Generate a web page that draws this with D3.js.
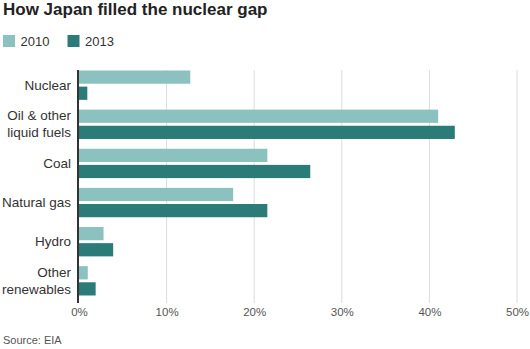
<!DOCTYPE html>
<html>
  <head>
    <meta charset="utf-8" />
    <title>How Japan filled the nuclear gap</title>
    <script src="https://d3js.org/d3.v7.min.js" charset="utf-8"></script>
    <style>
      html,
      body {
        margin: 0;
        padding: 0;
        background-color: #ffffff;
        font-family: "Liberation Sans", Arial, Helvetica, sans-serif;
      }
    </style>
  </head>
  <body>
    <svg id="chart"></svg>
    <script>
      // Data (share of electricity generation, %)
      const categories = [
        ["Nuclear"],
        ["Oil & other", "liquid fuels"],
        ["Coal"],
        ["Natural gas"],
        ["Hydro"],
        ["Other", "renewables"],
      ];
      const years = ["2010", "2013"];
      const values2010 = [12.7, 41.0, 21.5, 17.6, 2.8, 1.0];
      const values2013 = [0.95, 42.9, 26.4, 21.5, 3.9, 1.9];
      const xTicks = [0, 10, 20, 30, 40, 50];

      // SVG size
      const width = 530;
      const height = 349;

      // plot area
      const plotLeft = 79;
      const plotRight = 517;
      const plotTop = 70.5;
      const plotBottom = 295.5;

      const colours = { 2010: "#8bc1be", 2013: "#2b7c78" };

      const svg = d3
        .select("#chart")
        .attr("width", width)
        .attr("height", height)
        .style("display", "block");

      const catNames = categories.map((c) => c.join(" "));

      const xScale = d3.scaleLinear().domain([0, 50]).range([plotLeft, plotRight]);

      const yScale = d3
        .scaleBand()
        .domain(catNames)
        .range([plotTop, plotBottom])
        .paddingInner(0.25)
        .paddingOuter(0);

      const ySub = d3
        .scaleBand()
        .domain(years)
        .range([0, yScale.bandwidth()])
        .paddingInner(0.18);

      // Gridlines
      svg
        .append("g")
        .selectAll("line")
        .data(xTicks.slice(1))
        .enter()
        .append("line")
        .attr("x1", (d) => xScale(d))
        .attr("x2", (d) => xScale(d))
        .attr("y1", 70)
        .attr("y2", 303)
        .attr("stroke", "#dcdcdc")
        .attr("stroke-width", 1);

      // x-axis labels
      const xAxis = d3
        .axisBottom(xScale)
        .tickValues(xTicks)
        .tickFormat((d) => d + "%")
        .tickSize(0)
        .tickPadding(0);
      const xg = svg
        .append("g")
        .attr("transform", "translate(0,306)")
        .call(xAxis);
      xg.select(".domain").remove();
      xg.selectAll("text")
        .attr("dy", "0.85em")
        .attr("fill", "#555")
        .attr("font-size", 11.5)
        .attr("font-family", "'Liberation Sans', Arial, sans-serif");

      // Bars
      const rows = catNames.map((name, i) => ({
        name: name,
        lines: categories[i],
        v: { 2010: values2010[i], 2013: values2013[i] },
      }));

      const groups = svg
        .append("g")
        .selectAll("g")
        .data(rows)
        .enter()
        .append("g")
        .attr("transform", (d) => `translate(0,${yScale(d.name)})`);

      groups
        .selectAll("rect")
        .data((d) => years.map((y) => ({ year: y, value: d.v[y] })))
        .enter()
        .append("rect")
        .attr("x", xScale(0))
        .attr("y", (d) => ySub(d.year))
        .attr("width", (d) => xScale(d.value) - xScale(0))
        .attr("height", ySub.bandwidth())
        .attr("fill", (d) => colours[d.year]);

      // Category labels
      groups
        .append("text")
        .attr("text-anchor", "end")
        .attr("x", 71)
        .attr("font-size", 13.5)
        .attr("fill", "#333")
        .each(function (d) {
          const t = d3.select(this);
          const mid = yScale.bandwidth() / 2;
          const n = d.lines.length;
          d.lines.forEach((line, i) => {
            t.append("tspan")
              .attr("x", 71)
              .attr("y", mid + (i - (n - 1) / 2) * 17 + 4.5)
              .text(line);
          });
        });

      // y axis line
      svg
        .append("line")
        .attr("x1", plotLeft - 1)
        .attr("x2", plotLeft - 1)
        .attr("y1", 70)
        .attr("y2", 303)
        .attr("stroke", "#333")
        .attr("stroke-width", 2);

      // Title
      svg
        .append("text")
        .attr("x", 3)
        .attr("y", 15)
        .text("How Japan filled the nuclear gap")
        .attr("font-size", 17)
        .attr("font-weight", "bold")
        .attr("fill", "#222");

      // Legend
      const legend = svg
        .append("g")
        .selectAll("g")
        .data(years)
        .enter()
        .append("g")
        .attr("transform", (d, i) => `translate(${3 + i * 64.5},35)`);
      legend
        .append("rect")
        .attr("width", 12)
        .attr("height", 12)
        .attr("fill", (d) => colours[d]);
      legend
        .append("text")
        .attr("x", 17.5)
        .attr("y", 11)
        .attr("font-size", 13)
        .attr("fill", "#333")
        .text((d) => d);

      // Source
      svg
        .append("text")
        .attr("x", 3)
        .attr("y", 344)
        .attr("font-size", 11)
        .attr("fill", "#555")
        .text("Source: EIA");
    </script>
  </body>
</html>
